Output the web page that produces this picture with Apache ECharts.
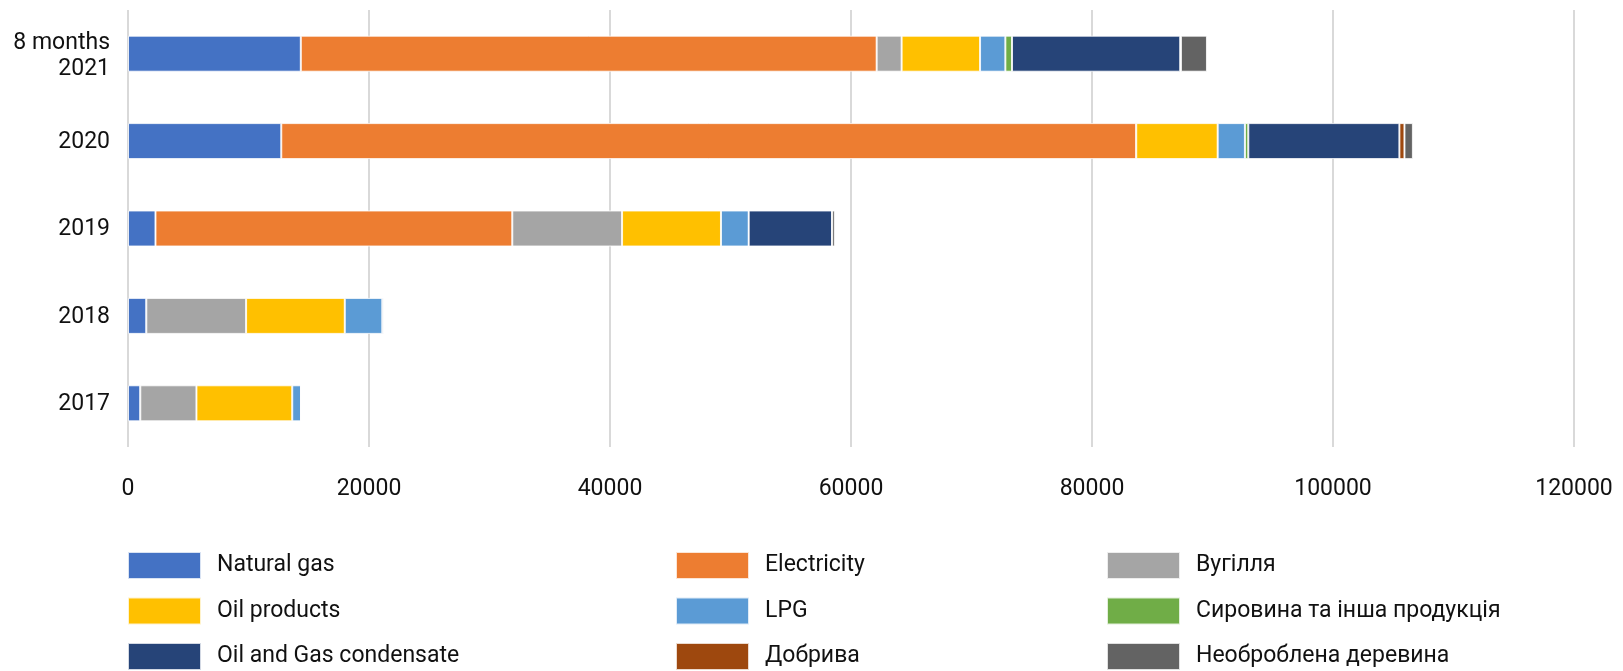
<!DOCTYPE html>
<html><head><meta charset="utf-8">
<script src="https://cdn.jsdelivr.net/npm/echarts@6/dist/echarts.min.js"></script>
<style>html,body{margin:0;padding:0;background:#fff}#c{width:1623px;height:671px}</style>
</head><body><div id="c"></div>
<script>
const categories = ['2017', '2018', '2019', '2020', '8 months\n2021'];
const xTicks = [0, 20000, 40000, 60000, 80000, 100000, 120000];
const naturalGas = [1020, 1520, 2280, 12720, 14340];
const electricity = [0, 0, 29610, 70950, 47790];
const coal = [4660, 8280, 9110, 0, 2070];
const oilProducts = [7950, 8190, 8210, 6760, 6510];
const lpg = [740, 3120, 2300, 2260, 2100];
const rawMaterials = [0, 0, 0, 280, 550];
const oilGasCondensate = [0, 140, 6920, 12540, 13960];
const fertilizers = [0, 0, 0, 420, 60];
const roundwood = [0, 0, 230, 700, 2160];

const seriesDefs = [
  ['Natural gas', naturalGas, '#4472C4'],
  ['Electricity', electricity, '#ED7D31'],
  ['Вугілля', coal, '#A5A5A5'],
  ['Oil products', oilProducts, '#FFC000'],
  ['LPG', lpg, '#5B9BD5'],
  ['Сировина та інша продукція', rawMaterials, '#70AD47'],
  ['Oil and Gas condensate', oilGasCondensate, '#264478'],
  ['Добрива', fertilizers, '#9E480E'],
  ['Необроблена деревина', roundwood, '#636363']
];
const legendCols = [
  ['Natural gas', 'Oil products', 'Oil and Gas condensate'],
  ['Electricity', 'LPG', 'Добрива'],
  ['Вугілля', 'Сировина та інша продукція', 'Необроблена деревина']
];
const legendLefts = [127, 675, 1106];
const legendTops = [551, 596.5, 642];

const chart = echarts.init(document.getElementById('c'), null, {renderer: 'canvas'});
const font = 'Roboto, "Noto Sans", sans-serif';
const legends = [];
legendCols.forEach((col, i) => col.forEach((name, j) => legends.push({
  data: [name], left: legendLefts[i], top: legendTops[j], padding: 0,
  itemWidth: 73, itemHeight: 27, icon: 'rect',
  textStyle: {fontSize: 23, color: '#111', fontFamily: font, padding: [0, 0, 0, 11]}
})));
const labelStyle = {fontSize: 23, lineHeight: 29, color: '#111', fontFamily: font, align: 'right'};
chart.setOption({
  animation: false,
  textStyle: {fontFamily: font},
  grid: {left: 128, right: 49, top: 10, bottom: 224, containLabel: false},
  xAxis: {
    type: 'value', min: 0, max: 120000, interval: 20000,
    axisLine: {show: false}, axisTick: {show: false},
    splitLine: {show: true, lineStyle: {color: '#d9d9d9', width: 2}},
    axisLabel: {color: '#111', fontSize: 23, margin: 31, fontFamily: font,
      formatter: v => xTicks.includes(v) ? String(v) : ''}
  },
  yAxis: {
    type: 'category', data: categories,
    axisLine: {show: false}, axisTick: {show: false},
    axisLabel: {color: '#111', fontSize: 23, margin: 18, lineHeight: 29, fontFamily: font, align: 'right',
      formatter: v => {
        const parts = v.split('\n');
        if (parts.length === 1) return '{b|' + v + '}';
        return '{t|' + parts[0] + '}\n{b|' + parts[1] + '}';
      },
      rich: {
        t: Object.assign({}, labelStyle, {padding: [8, 0, 0, 0]}),
        b: Object.assign({}, labelStyle, {padding: [2, 0, 0, 0]})
      }
    }
  },
  legend: legends,
  series: seriesDefs.map(([name, data, color]) => ({
    name, type: 'bar', stack: 'total', data, barWidth: 36,
    itemStyle: {color, borderColor: 'rgba(255,255,255,0.8)', borderWidth: 1}
  }))
});
</script></body></html>
